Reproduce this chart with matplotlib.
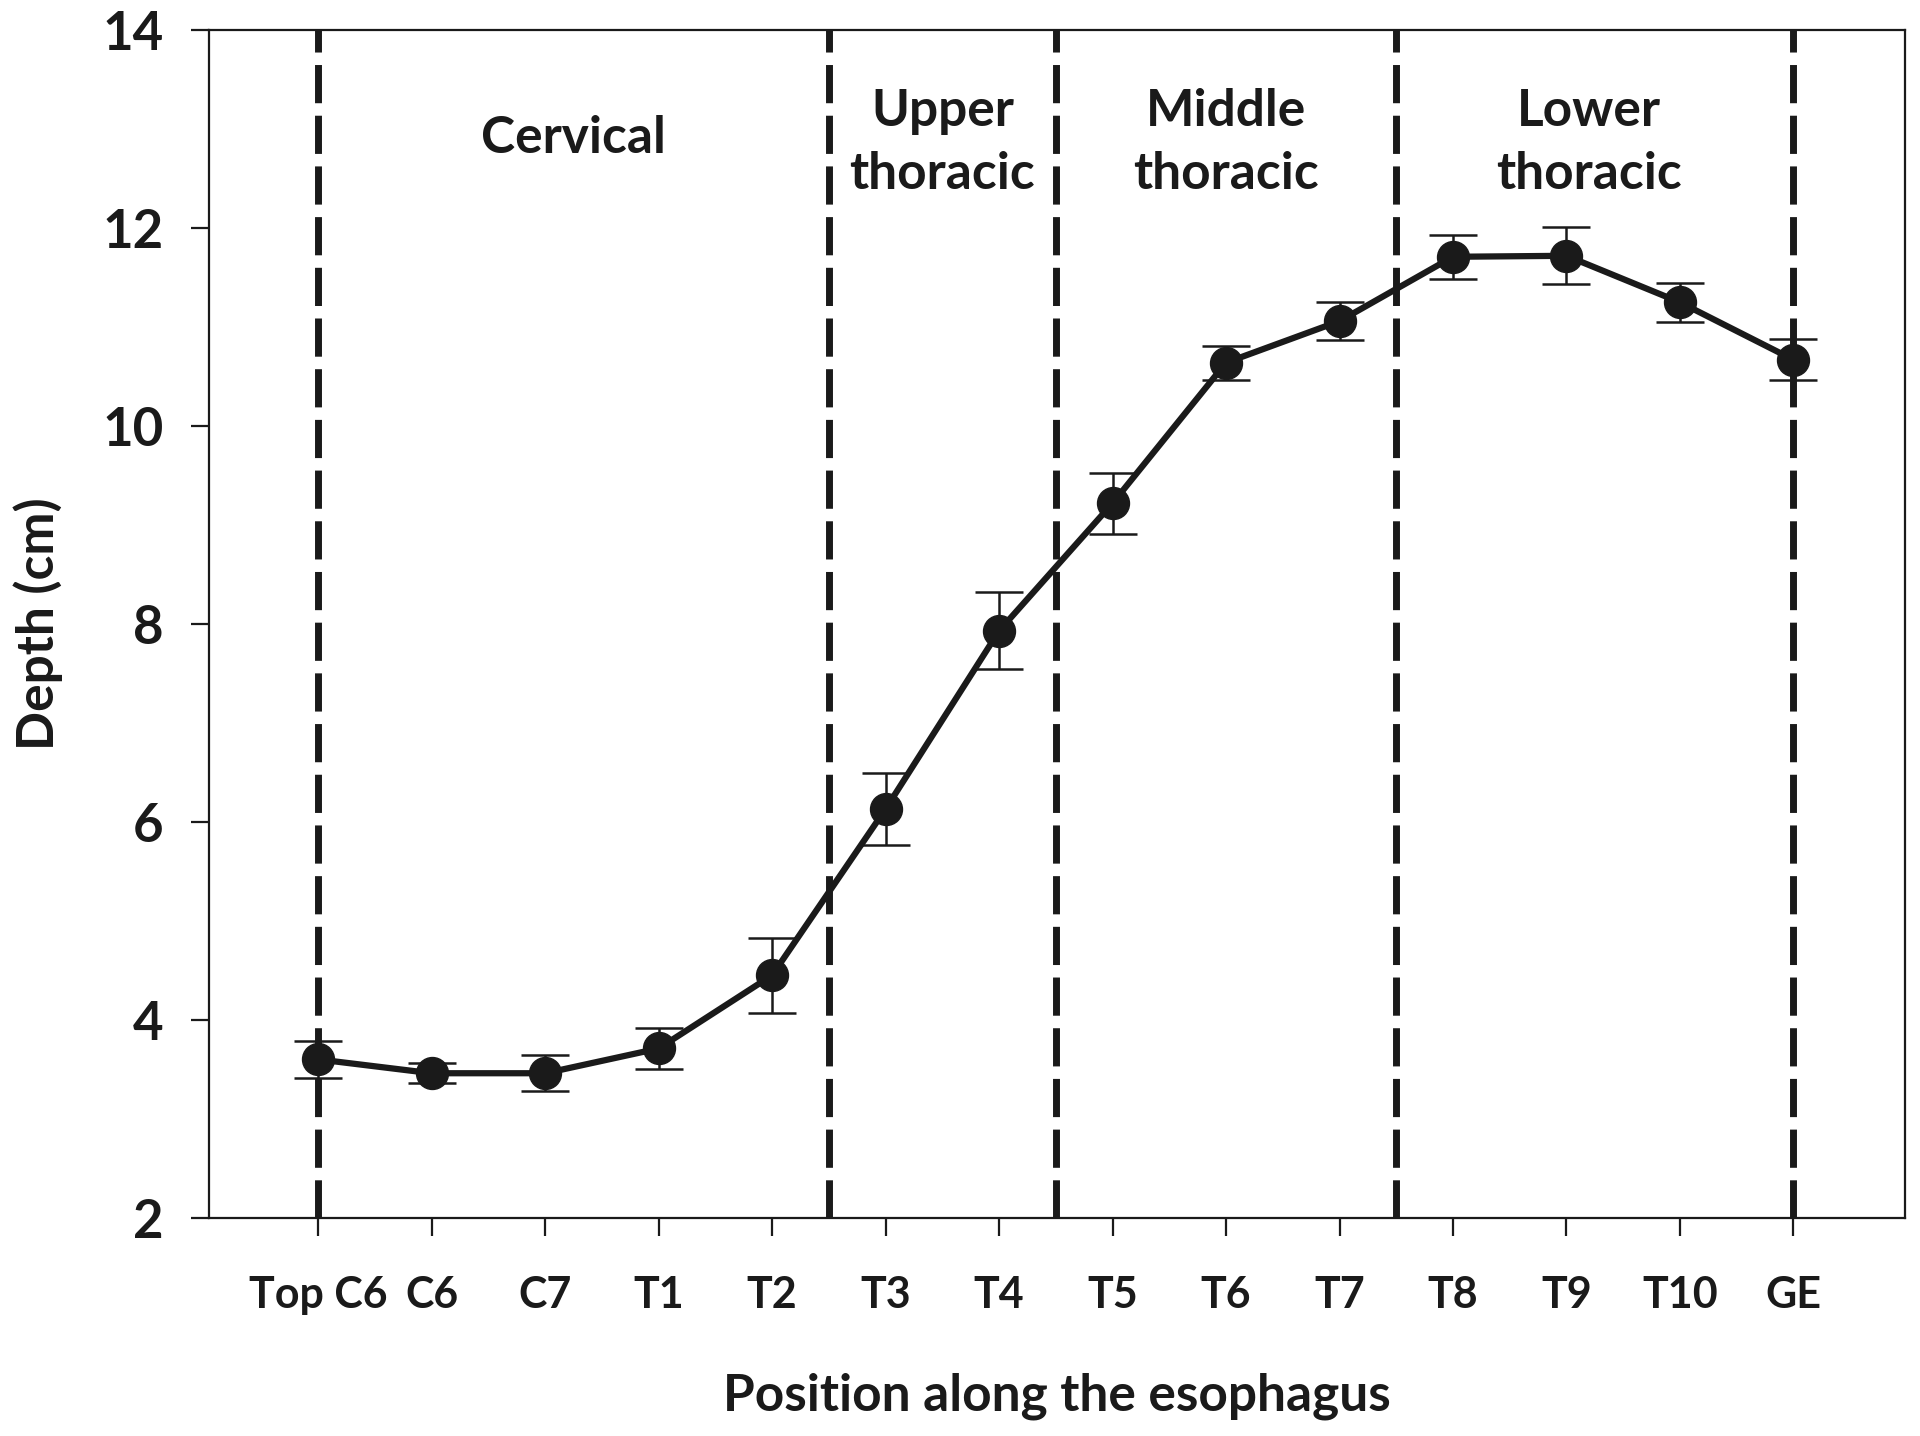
import matplotlib
matplotlib.use('Agg')
import matplotlib.pyplot as plt

plt.rcParams['font.family'] = ['Lato', 'DejaVu Sans']
plt.rcParams['font.weight'] = 'bold'

# values
positions = ['Top C6', 'C6', 'C7', 'T1', 'T2', 'T3', 'T4', 'T5', 'T6', 'T7',
             'T8', 'T9', 'T10', 'GE']
depth = [3.60, 3.46, 3.46, 3.71, 4.45, 6.13, 7.93, 9.22, 10.64, 11.06,
         11.71, 11.72, 11.25, 10.67]
err = [0.19, 0.10, 0.18, 0.21, 0.38, 0.36, 0.39, 0.31, 0.17, 0.19,
       0.22, 0.29, 0.20, 0.21]
boundaries = [1, 5.5, 7.5, 10.5, 14]
regions = ['Cervical', 'Upper\nthoracic', 'Middle\nthoracic', 'Lower\nthoracic']
region_x = [3.25, 6.5, 9.0, 12.2]
region_y = [12.91, 12.86, 12.86, 12.86]

ink = '#1a1a1a'
x = list(range(1, len(positions) + 1))

fig = plt.figure(figsize=(19.2, 14.36), dpi=100)
ax = fig.add_axes([0.109, 0.152, 0.883, 0.827])

for b in boundaries:
    ax.axvline(b, color=ink, lw=5, linestyle=(0, (5.5, 1.8)), zorder=1,
               clip_on=False)

ax.errorbar(x, depth, yerr=err, color=ink, lw=4.5, marker='o', ms=23,
            ecolor=ink, elinewidth=1.8, capsize=17, capthick=1.8, zorder=3)

for name, rx, ry in zip(regions, region_x, region_y):
    ax.text(rx, ry, name, ha='center', va='center', fontsize=37,
            fontweight='bold', color=ink, linespacing=1.4)

ax.set_xlim(0.04, 14.98)
ax.set_ylim(2, 14)
ax.set_yticks(range(2, 15, 2))
ax.set_xticks(x)
ax.set_xticklabels(positions)

for s in ax.spines.values():
    s.set_linewidth(1.6)
    s.set_color(ink)

ax.tick_params(axis='y', direction='out', length=13, width=1.6, pad=20,
               labelsize=38, colors=ink)
ax.tick_params(axis='x', direction='out', length=13, width=1.6, pad=28,
               labelsize=31, colors=ink)
for lab in ax.get_xticklabels() + ax.get_yticklabels():
    lab.set_fontweight('bold')

ax.set_xlabel('Position along the esophagus', fontsize=37, fontweight='bold',
              color=ink)
ax.set_ylabel('Depth (cm)', fontsize=37, fontweight='bold', color=ink)
ax.xaxis.set_label_coords(0.5, -0.150)
ax.xaxis.label.set_va('center')
ax.yaxis.set_label_coords(-0.101, 0.5)
ax.yaxis.label.set_va('center')

fig.savefig('out.png', dpi=100)
